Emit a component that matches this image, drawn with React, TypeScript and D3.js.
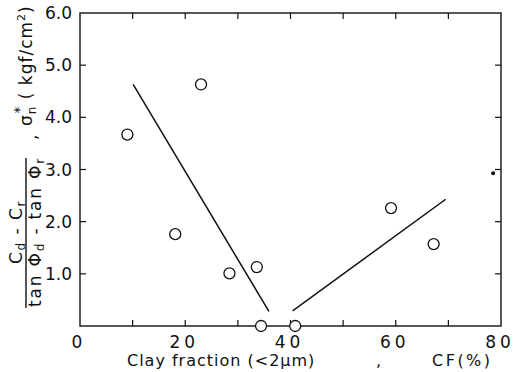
import React from 'react';
import * as d3 from 'd3';

// measured points: clay fraction CF (%) vs sigma_n*
const cfValues = [9, 23, 18.1, 28.4, 33.6, 34.4, 40.9, 59.1, 67.2];
const sigmaValues = [3.67, 4.63, 1.76, 1.01, 1.13, 0, 0, 2.26, 1.57];

// two fitted lines
const leftLineCf = [10.1, 35.9];
const leftLineSigma = [4.63, 0.28];
const rightLineCf = [40.4, 69.5];
const rightLineSigma = [0.29, 2.43];

// scan speck on the right border
const speckCf = [78.5];
const speckSigma = [2.93];

const xTickLabels = ['0', '20', '40', '60', '80'];
const yTickLabels = ['1.0', '2.0', '3.0', '4.0', '5.0', '6.0'];

const W = 525;
const H = 372;
const margin = { top: 13, right: 24, bottom: 46, left: 80 };
const font = "'DejaVu Sans', sans-serif";

export default function App() {
  const x = d3.scaleLinear().domain([0, 80]).range([margin.left, W - margin.right]);
  const y = d3.scaleLinear().domain([0, 6]).range([H - margin.bottom, margin.top]);

  const line = d3
    .line<[number, number]>()
    .x((d) => x(d[0]))
    .y((d) => y(d[1]));

  const leftLine = leftLineCf.map((c, i) => [c, leftLineSigma[i]] as [number, number]);
  const rightLine = rightLineCf.map((c, i) => [c, rightLineSigma[i]] as [number, number]);

  const xTicks = d3.range(10, 80, 10);
  const yTicks = d3.range(1, 6, 1);
  const tick = 6;

  const x0 = x(0);
  const x1 = x(80);
  const y0 = y(0);
  const y1 = y(6);

  return (
    <svg width={W} height={H} style={{ position: 'absolute', left: 0, top: 0, background: '#fff' }}>
      <rect x={0} y={0} width={W} height={H} fill="#fff" />
      {/* frame */}
      <rect x={x0} y={y1} width={x1 - x0} height={y0 - y1} fill="none" stroke="#111" strokeWidth={1.4} />
      {xTicks.map((t) => (
        <g key={'xt' + t}>
          <line x1={x(t)} x2={x(t)} y1={y0} y2={y0 - tick} stroke="#111" strokeWidth={1.2} />
          <line x1={x(t)} x2={x(t)} y1={y1} y2={y1 + tick} stroke="#111" strokeWidth={1.2} />
        </g>
      ))}
      {yTicks.map((t) => (
        <g key={'yt' + t}>
          <line x1={x0} x2={x0 + tick} y1={y(t)} y2={y(t)} stroke="#111" strokeWidth={1.2} />
          <line x1={x1} x2={x1 - tick} y1={y(t)} y2={y(t)} stroke="#111" strokeWidth={1.2} />
        </g>
      ))}

      {/* tick labels */}
      {yTickLabels.map((l) => (
        <text key={l} x={x0 - 8} y={y(+l)} dy="0.36em" textAnchor="end" fontFamily={font} fontSize={17} fill="#111">
          {l}
        </text>
      ))}
      {xTickLabels.map((l) => (
        <text key={l} x={x(+l) - 1} y={y0 + 22} textAnchor="middle" fontFamily={font} fontSize={17} letterSpacing={4} fill="#111">
          {l}
        </text>
      ))}

      {/* x title */}
      <text x={127} y={H - 6} fontFamily={font} fontSize={16} letterSpacing={1} fill="#111">
        Clay fraction (&lt;2µm)
      </text>
      <text x={376} y={H - 6} fontFamily={font} fontSize={16} fill="#111">,</text>
      <text x={432} y={H - 6} fontFamily={font} fontSize={16} letterSpacing={2.5} fill="#111">
        CF(%)
      </text>

      {/* y title, rotated */}
      <g transform="rotate(-90)" fontFamily={font} fill="#111">
        <text x={-232} y={22} textAnchor="middle" fontSize={17} letterSpacing={1.5}>
          C<tspan fontSize={12} dy={3}>d</tspan>
          <tspan dy={-3}> - C</tspan>
          <tspan fontSize={12} dy={3}>r</tspan>
        </text>
        <line x1={-308} x2={-158} y1={26} y2={26} stroke="#111" strokeWidth={1.4} />
        <text x={-232} y={41} textAnchor="middle" fontSize={17} letterSpacing={1.8}>
          tan Φ<tspan fontSize={12} dy={3}>d</tspan>
          <tspan dy={-3}> - tan Φ</tspan>
          <tspan fontSize={12} dy={3}>r</tspan>
        </text>
        <text x={-140} y={37} fontSize={17}>,</text>
        <text x={-126} y={32} fontSize={17} letterSpacing={1}>
          σ<tspan fontSize={12} dy={4}>n</tspan>
          <tspan fontSize={14} dy={-12} dx={-8}>*</tspan>
          <tspan dy={8}> ( kgf/cm</tspan>
          <tspan fontSize={11} dy={-7}>2</tspan>
          <tspan dy={7}>)</tspan>
        </text>
      </g>

      {/* fitted lines */}
      <path d={line(leftLine) ?? ''} fill="none" stroke="#111" strokeWidth={1.5} />
      <path d={line(rightLine) ?? ''} fill="none" stroke="#111" strokeWidth={1.5} />

      {/* points */}
      {cfValues.map((c, i) => (
        <circle key={i} cx={x(c)} cy={y(sigmaValues[i])} r={5.5} fill="#fff" stroke="#111" strokeWidth={1.3} />
      ))}
      {speckCf.map((c, i) => (
        <circle key={'s' + i} cx={x(c)} cy={y(speckSigma[i])} r={2} fill="#111" />
      ))}
    </svg>
  );
}
